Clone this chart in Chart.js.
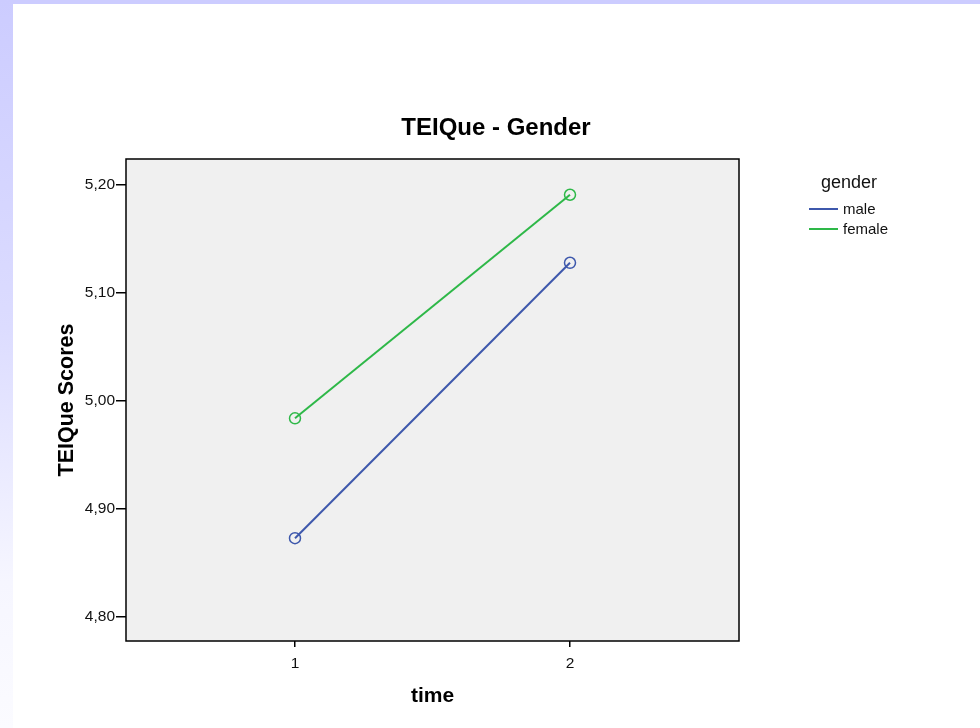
<!DOCTYPE html>
<html>
<head>
<meta charset="utf-8">
<script src="https://cdn.jsdelivr.net/npm/chart.js@4/dist/chart.umd.min.js"></script>
<style>
  html, body { margin: 0; padding: 0; background: #fff; }
  #wrap { position: relative; width: 980px; height: 728px; overflow: hidden; }
  #topbar { position: absolute; left: 0; top: 0; width: 980px; height: 4px; background: #ccccff; }
  #leftbar { position: absolute; left: 0; top: 0; width: 13px; height: 728px;
    background: linear-gradient(#ccccff 0%, #dcdcff 45%, #f6f6ff 80%, #fbfbff 100%); }
  #chart { position: absolute; left: 0; top: 0; }
</style>
</head>
<body>
<div id="wrap">
  <div id="topbar"></div>
  <div id="leftbar"></div>
  <canvas id="chart" width="980" height="728"></canvas>
</div>
<script>
const times = [1, 2];
const maleScores = [4.873, 5.128];
const femaleScores = [4.984, 5.191];
const yTicks = [4.80, 4.90, 5.00, 5.10, 5.20];
const xTicks = [1, 2];
const seriesNames = ['male', 'female'];
const seriesColors = ['#3e58ac', '#2eb848'];

const font = '"Liberation Sans", Arial, sans-serif';

const toPoints = (vals) => vals.map((v, i) => ({ x: times[i], y: v }));

// plot background + frame, title and legend drawn on the canvas
const spssLook = {
  id: 'spssLook',
  beforeDatasetsDraw(chart) {
    const { ctx, chartArea: a } = chart;
    ctx.save();
    ctx.fillStyle = '#f0f0f0';
    ctx.fillRect(a.left, a.top, a.right - a.left, a.bottom - a.top);
    ctx.restore();
  },
  afterDraw(chart) {
    const { ctx, chartArea: a } = chart;
    ctx.save();
    ctx.strokeStyle = '#000';
    ctx.lineWidth = 1.5;
    ctx.strokeRect(a.left, a.top, a.right - a.left, a.bottom - a.top);

    ctx.fillStyle = '#000';
    ctx.font = 'bold 24px ' + font;
    ctx.textAlign = 'center';
    ctx.textBaseline = 'alphabetic';
    ctx.fillText('TEIQue - Gender', 496, 135);

    ctx.textAlign = 'left';
    ctx.font = '18px ' + font;
    ctx.fillStyle = '#111';
    ctx.fillText('gender', 821, 188);
    ctx.font = '15px ' + font;
    chart.data.datasets.forEach((ds, i) => {
      const y = 209 + i * 20;
      ctx.strokeStyle = ds.borderColor;
      ctx.lineWidth = 2;
      ctx.beginPath();
      ctx.moveTo(809, y);
      ctx.lineTo(838, y);
      ctx.stroke();
      ctx.fillStyle = '#111';
      ctx.textBaseline = 'middle';
      ctx.fillText(ds.label, 843, y + 1);
    });
    ctx.restore();
  }
};

new Chart(document.getElementById('chart'), {
  type: 'line',
  data: {
    datasets: [
      {
        label: seriesNames[0],
        data: toPoints(maleScores),
        borderColor: seriesColors[0],
        borderWidth: 2,
        pointRadius: 5.5,
        pointBorderWidth: 1.5,
        pointBackgroundColor: 'rgba(0,0,0,0)',
        pointBorderColor: seriesColors[0]
      },
      {
        label: seriesNames[1],
        data: toPoints(femaleScores),
        borderColor: seriesColors[1],
        borderWidth: 2,
        pointRadius: 5.5,
        pointBorderWidth: 1.5,
        pointBackgroundColor: 'rgba(0,0,0,0)',
        pointBorderColor: seriesColors[1]
      }
    ]
  },
  options: {
    responsive: false,
    animation: false,
    layout: { padding: { left: 0, top: 159, right: 241, bottom: 0 } },
    plugins: {
      legend: { display: false },
      tooltip: { enabled: false }
    },
    scales: {
      x: {
        type: 'linear',
        min: 0.3855,
        max: 2.6145,
        afterBuildTicks: (axis) => { axis.ticks = xTicks.map(v => ({ value: v })); },
        afterFit: (axis) => { axis.height = 87; },
        grid: { drawOnChartArea: false, color: '#000', tickLength: 6, lineWidth: 1.5 },
        border: { display: false },
        ticks: { color: '#111', font: { family: font, size: 15.5 }, padding: 7, maxRotation: 0 },
        title: { display: true, text: 'time', color: '#000',
          font: { family: font, size: 21, weight: 'bold' }, padding: { bottom: 19 } }
      },
      y: {
        min: 4.7778,
        max: 5.2241,
        afterBuildTicks: (axis) => { axis.ticks = yTicks.map(v => ({ value: v })); },
        afterFit: (axis) => { axis.width = 126; },
        grid: { drawOnChartArea: false, color: '#000', tickLength: 10, lineWidth: 1.5 },
        border: { display: false },
        ticks: { color: '#111', font: { family: font, size: 15.5 }, padding: 1,
          callback: (v) => v.toFixed(2).replace('.', ',') },
        title: { display: true, text: 'TEIQue Scores', color: '#000',
          font: { family: font, size: 21.5, weight: 'bold' }, padding: { top: 54 } }
      }
    }
  },
  plugins: [spssLook]
});
</script>
</body>
</html>
